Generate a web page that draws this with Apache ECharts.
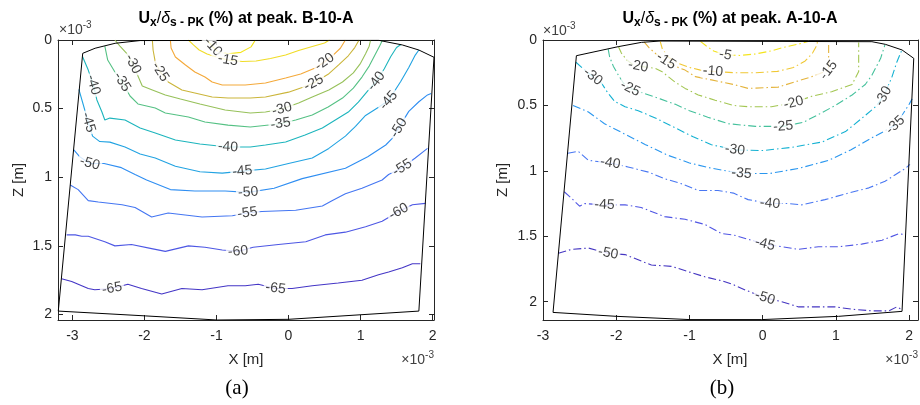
<!DOCTYPE html>
<html><head><meta charset="utf-8">
<script src="https://cdn.jsdelivr.net/npm/echarts@6/dist/echarts.min.js"></script>
<style>html,body{margin:0;padding:0;background:#fff}#c{width:920px;height:405px}</style>
</head><body><div id="c"></div>
<script>
// ---------- tick labels ----------
const xTicks = [-3, -2, -1, 0, 1, 2];
const zTicks = [0, 0.5, 1, 1.5, 2];

// ---------- panel (a) B-10-A : contour lines [X(1e-3 m), Z(1e-3 m)] ----------
const levelsA = [-10, -15, -20, -25, -30, -35, -40, -45, -50, -55, -60, -65];
const A10 = [[-1.13,0],[-1.05,0.05],[-0.98,0.085],[-0.84,0.10],[-0.66,0.09],[-0.52,0.05],[-0.46,0]];
const A15 = [[-1.39,0],[-1.32,0.036],[-1.24,0.073],[-1.13,0.102],[-1.00,0.124],[-0.84,0.146],[-0.64,0.157],[-0.45,0.153],[-0.25,0.135],[-0.04,0.109],[0.14,0.077],[0.33,0.047],[0.50,0.022],[0.57,0]];
const A20 = [[-1.64,0],[-1.63,0.058],[-1.57,0.124],[-1.43,0.182],[-1.30,0.233],[-1.16,0.270],[-1.06,0.306],[-0.92,0.328],[-0.60,0.328],[-0.32,0.313],[-0.04,0.277],[0.17,0.248],[0.37,0.204],[0.50,0.160],[0.62,0.110],[0.72,0.060],[0.79,0]];
const A25 = [[-1.89,0],[-1.88,0.073],[-1.85,0.160],[-1.78,0.233],[-1.67,0.306],[-1.48,0.364],[-1.30,0.386],[-1.06,0.415],[-0.84,0.423],[-0.53,0.423],[-0.32,0.415],[0.00,0.380],[0.20,0.345],[0.35,0.313],[0.55,0.250],[0.70,0.180],[0.83,0.115],[0.92,0.055],[0.98,0]];
const A30 = [[-2.41,0],[-2.34,0.044],[-2.25,0.095],[-2.16,0.175],[-2.09,0.262],[-2.03,0.335],[-1.89,0.364],[-1.71,0.401],[-1.50,0.430],[-1.23,0.466],[-0.88,0.510],[-0.53,0.532],[-0.32,0.525],[-0.09,0.503],[0.14,0.459],[0.33,0.415],[0.56,0.364],[0.75,0.306],[0.90,0.240],[1.00,0.170],[1.07,0.100],[1.12,0.045],[1.14,0]];
const A35 = [[-2.55,0.045],[-2.51,0.146],[-2.41,0.233],[-2.31,0.306],[-2.20,0.408],[-2.09,0.466],[-1.85,0.496],[-1.71,0.532],[-1.39,0.561],[-1.16,0.598],[-0.84,0.620],[-0.53,0.634],[-0.11,0.610],[0.10,0.583],[0.33,0.547],[0.55,0.488],[0.75,0.423],[0.90,0.350],[1.02,0.270],[1.12,0.190],[1.20,0.110],[1.26,0.050],[1.30,0.005]];
const A40 = [[-2.86,0.12],[-2.78,0.219],[-2.71,0.328],[-2.66,0.437],[-2.59,0.525],[-2.55,0.583],[-2.48,0.569],[-2.27,0.583],[-2.06,0.641],[-1.85,0.678],[-1.57,0.729],[-1.23,0.758],[-0.84,0.780],[-0.53,0.780],[-0.32,0.765],[-0.04,0.743],[0.23,0.692],[0.47,0.641],[0.65,0.583],[0.83,0.525],[0.97,0.452],[1.10,0.370],[1.22,0.300],[1.33,0.210],[1.42,0.120],[1.50,0.055],[1.56,0.033]];
const A45 = [[-2.91,0.36],[-2.85,0.47],[-2.78,0.60],[-2.72,0.70],[-2.62,0.74],[-2.48,0.744],[-2.27,0.78],[-2.06,0.83],[-1.85,0.86],[-1.57,0.92],[-1.23,0.96],[-0.92,0.97],[-0.64,0.955],[-0.32,0.94],[0.00,0.90],[0.33,0.86],[0.56,0.79],[0.79,0.70],[0.93,0.63],[1.07,0.55],[1.25,0.49],[1.39,0.44],[1.56,0.30],[1.67,0.20],[1.76,0.11],[1.81,0.073]];
const A50 = [[-2.98,0.80],[-2.90,0.85],[-2.76,0.90],[-2.56,0.90],[-2.32,0.93],[-2.13,0.98],[-1.97,1.02],[-1.64,1.09],[-1.30,1.10],[-0.88,1.10],[-0.56,1.11],[-0.20,1.08],[0.19,1.01],[0.79,0.935],[1.10,0.85],[1.35,0.765],[1.44,0.716],[1.53,0.64],[1.67,0.52],[1.81,0.45],[1.93,0.40],[1.98,0.39]];
const A55 = [[-3.03,1.057],[-2.92,1.09],[-2.78,1.17],[-2.64,1.18],[-2.31,1.20],[-2.13,1.22],[-1.90,1.29],[-1.67,1.26],[-1.20,1.29],[-0.78,1.28],[-0.57,1.26],[-0.37,1.25],[0.10,1.24],[0.47,1.21],[0.61,1.17],[0.79,1.12],[1.02,1.08],[1.30,1.02],[1.39,0.98],[1.58,0.93],[1.76,0.86],[1.93,0.79]];
const A60 = [[-3.08,1.42],[-2.96,1.42],[-2.87,1.43],[-2.78,1.43],[-2.55,1.47],[-2.41,1.50],[-2.18,1.49],[-1.90,1.52],[-1.71,1.54],[-1.39,1.50],[-1.16,1.51],[-0.92,1.53],[-0.70,1.54],[-0.49,1.51],[-0.14,1.49],[0.24,1.47],[0.51,1.42],[0.79,1.40],[1.07,1.36],[1.30,1.32],[1.53,1.25],[1.72,1.20],[1.90,1.19]];
const A65 = [[-3.15,1.74],[-3.01,1.76],[-2.78,1.81],[-2.69,1.82],[-2.45,1.81],[-2.23,1.78],[-2.04,1.81],[-1.76,1.85],[-1.48,1.81],[-1.20,1.82],[-0.84,1.79],[-0.60,1.79],[-0.42,1.78],[-0.18,1.81],[0.05,1.81],[0.33,1.79],[0.69,1.77],[1.02,1.75],[1.25,1.71],[1.39,1.69],[1.58,1.66],[1.72,1.63],[1.83,1.63]];
const boundaryA = [[-3.196,1.975],[-2.857,0.097],[-2.685,0.060],[-2.407,0.024],[-2.06,0.004],[1.25,0.002],[1.58,0.036],[1.81,0.073],[2.02,0.126],[1.81,1.975],[0.0,2.035],[-0.99,2.04],[-1.99,2.01],[-3.196,1.975]];
// contour labels: [level, vertex index on that level's line]
const labelsA = [[-10,1],[-15,5],[-20,13],[-25,3],[-25,13],[-30,3],[-30,13],[-35,3],[-35,12],[-40,2],[-40,12],[-40,22],[-45,2],[-45,12],[-45,21],[-50,2],[-50,10],[-50,17],[-55,10],[-55,19],[-60,12],[-60,20],[-65,4],[-65,13]];

// ---------- panel (b) A-10-A ----------
const levelsB = [-5, -10, -15, -20, -25, -30, -35, -40, -45, -50];
const B5  = [[-0.85,0.01],[-0.77,0.046],[-0.67,0.084],[-0.51,0.115],[-0.31,0.118],[-0.10,0.107],[0.11,0.084],[0.31,0.053],[0.49,0.031],[0.63,0.01]];
const B10 = [[-1.40,0.01],[-1.37,0.07],[-1.29,0.13],[-1.15,0.18],[-1.00,0.21],[-0.85,0.23],[-0.68,0.24],[-0.40,0.25],[-0.10,0.25],[0.20,0.24],[0.42,0.21],[0.58,0.16],[0.68,0.10],[0.73,0.05],[0.75,0.01]];
const B15 = [[-1.62,0.015],[-1.55,0.06],[-1.45,0.11],[-1.32,0.16],[-1.20,0.20],[-1.06,0.23],[-0.92,0.28],[-0.70,0.305],[-0.40,0.34],[-0.20,0.37],[0.21,0.36],[0.44,0.32],[0.67,0.28],[0.90,0.23],[0.90,0.115],[0.90,0.013]];
const B20 = [[-1.97,0.051],[-1.93,0.10],[-1.86,0.15],[-1.78,0.185],[-1.70,0.20],[-1.47,0.216],[-1.38,0.24],[-1.20,0.32],[-1.06,0.37],[-0.88,0.42],[-0.65,0.46],[-0.40,0.50],[-0.20,0.51],[0.12,0.51],[0.42,0.48],[0.67,0.43],[0.94,0.395],[1.22,0.34],[1.31,0.24],[1.31,0.12],[1.31,0.02]];
const B25 = [[-2.11,0.07],[-2.09,0.13],[-2.04,0.20],[-1.97,0.27],[-1.90,0.33],[-1.81,0.37],[-1.61,0.41],[-1.40,0.45],[-1.20,0.49],[-1.00,0.54],[-0.75,0.59],[-0.47,0.64],[-0.10,0.66],[0.28,0.66],[0.55,0.63],[0.76,0.57],[0.99,0.50],[1.22,0.42],[1.40,0.34],[1.49,0.27],[1.61,0.14],[1.67,0.035]];
const B30 = [[-2.55,0.17],[-2.45,0.22],[-2.32,0.28],[-2.20,0.33],[-2.12,0.40],[-2.02,0.47],[-1.88,0.51],[-1.70,0.54],[-1.45,0.60],[-1.20,0.67],[-0.95,0.74],[-0.70,0.80],[-0.38,0.84],[0.0,0.845],[0.40,0.82],[0.81,0.78],[1.13,0.70],[1.35,0.60],[1.54,0.51],[1.65,0.43],[1.76,0.29],[1.83,0.17],[1.90,0.076]];
const B35 = [[-2.59,0.50],[-2.38,0.55],[-2.16,0.64],[-1.88,0.72],[-1.60,0.80],[-1.30,0.88],[-1.00,0.94],[-0.70,0.98],[-0.29,1.02],[0.10,1.02],[0.50,0.98],[0.90,0.92],[1.20,0.84],[1.45,0.76],[1.65,0.70],[1.81,0.65],[1.92,0.56],[2.00,0.49],[2.04,0.45]];
const B40 = [[-2.66,0.865],[-2.52,0.85],[-2.38,0.92],[-2.08,0.94],[-1.84,0.97],[-1.56,1.01],[-1.34,1.06],[-1.10,1.10],[-0.88,1.15],[-0.61,1.15],[-0.40,1.17],[-0.20,1.22],[0.10,1.25],[0.35,1.25],[0.53,1.26],[0.85,1.22],[1.17,1.17],[1.45,1.13],[1.67,1.08],[1.81,1.03],[1.95,0.98],[2.01,0.95]];
const B45 = [[-2.71,1.16],[-2.61,1.21],[-2.50,1.27],[-2.43,1.25],[-2.16,1.26],[-1.88,1.26],[-1.66,1.28],[-1.34,1.35],[-1.06,1.37],[-0.79,1.41],[-0.56,1.48],[-0.40,1.49],[0.03,1.56],[0.26,1.58],[0.49,1.60],[0.76,1.58],[1.04,1.58],[1.35,1.56],[1.63,1.53],[1.86,1.48],[1.95,1.49]];
const B50 = [[-2.79,1.63],[-2.61,1.60],[-2.38,1.59],[-2.11,1.63],[-1.88,1.64],[-1.70,1.68],[-1.52,1.72],[-1.24,1.73],[-1.02,1.77],[-0.79,1.81],[-0.56,1.84],[-0.40,1.87],[-0.24,1.91],[0.03,1.97],[0.26,2.00],[0.49,2.04],[0.72,2.04],[0.99,2.04],[1.26,2.06],[1.49,2.07],[1.72,2.07],[1.83,2.04],[1.90,2.06]];
const boundaryB = [[-2.863,2.082],[-2.544,0.120],[-1.974,0.051],[-1.655,0.018],[-1.40,0.008],[1.491,0.013],[1.674,0.033],[1.902,0.076],[2.062,0.140],[1.902,2.074],[1.036,2.112],[-0.014,2.137],[-0.993,2.137],[-1.997,2.112],[-2.863,2.082]];
const labelsB = [[-5,3],[-10,6],[-15,3],[-15,13],[-20,4],[-20,14],[-25,5],[-25,13],[-30,2],[-30,12],[-30,19],[-35,8],[-35,15],[-40,3],[-40,12],[-45,4],[-45,12],[-50,3],[-50,13]];

// ---------- styles ----------
const linesA = [A10, A15, A20, A25, A30, A35, A40, A45, A50, A55, A60, A65];
const linesB = [B5, B10, B15, B20, B25, B30, B35, B40, B45, B50];
const colorsA = ['#f4e41c','#f0dc26','#f4a93a','#cbb53a','#97c15a','#55c184','#1db5bd','#22a3e2','#2f8ef2','#4476f2','#4d57e4','#4436c6'];
const colorsB = ['#f4e41c','#f0c834','#e4b43c','#a3c652','#45c19c','#14b1d2','#2b97ef','#4977f2','#5056e4','#4536c2'];
const FONT = 'Liberation Sans';
const AX = '#262626';

function axes(grid, xmin, xmax, ymax) {
  const common = {type:'value', gridIndex:grid, splitLine:{show:false},
    axisLine:{show:true, onZero:false, lineStyle:{color:AX, width:1}}};
  const xb = Object.assign({}, common, {position:'bottom', min:xmin, max:xmax,
    axisTick:{show:true, inside:true, length:5, customValues:xTicks, lineStyle:{color:AX}},
    axisLabel:{show:true, customValues:xTicks, color:AX, fontSize:14, fontFamily:FONT, margin:9, formatter:v=>String(v)}});
  const xt = Object.assign({}, common, {position:'top', min:xmin, max:xmax,
    axisTick:{show:true, inside:true, length:5, customValues:xTicks, lineStyle:{color:AX}},
    axisLabel:{show:false}});
  const yl = Object.assign({}, common, {position:'left', inverse:true, min:0, max:ymax,
    axisTick:{show:true, inside:true, length:5, customValues:zTicks, lineStyle:{color:AX}},
    axisLabel:{show:true, customValues:zTicks, color:AX, fontSize:14, fontFamily:FONT, margin:6, formatter:v=>String(v)}});
  const yr = Object.assign({}, common, {position:'right', inverse:true, min:0, max:ymax,
    axisTick:{show:true, inside:true, length:5, customValues:zTicks, lineStyle:{color:AX}},
    axisLabel:{show:false}});
  return {x:[xb, xt], y:[yl, yr]};
}
const axA = axes(0, -3.2, 2.02, 2.04);
const axB = axes(1, -3, 2.12, 2.14);

const series = [];
function addPanel(tag, levels, lines, colors, boundary, xi, yi, dash) {
  levels.forEach((lv, i) => {
    series.push({id: tag + lv, type:'line', xAxisIndex:xi, yAxisIndex:yi, data:lines[i],
      symbol:'none', showSymbol:false, silent:true, animation:false, z:2,
      lineStyle:{color:colors[i], width:1.1, type: dash ? [8,3,1.5,3] : 'solid'}});
  });
  series.push({id: tag + 'bd', type:'line', xAxisIndex:xi, yAxisIndex:yi, data:boundary,
    symbol:'none', showSymbol:false, silent:true, animation:false, z:3,
    lineStyle:{color:'#000', width:1}});
}
addPanel('a', levelsA, linesA, colorsA, boundaryA, 0, 0, false);
addPanel('b', levelsB, linesB, colorsB, boundaryB, 2, 2, true);

function labelSeries(tag, labels, levels, lines, xi, yi, rot) {
  return {id: tag + 'lab', type:'scatter', xAxisIndex:xi, yAxisIndex:yi, symbolSize:1,
    itemStyle:{color:'rgba(0,0,0,0)'}, silent:true, animation:false, z:10,
    label:{show:true, position:'inside', color:'#111', fontSize:14, fontFamily:FONT,
      backgroundColor:'#fff', padding:[0,2]},
    labelLayout:{hideOverlap:false},
    data: labels.map((l, k) => {
      const line = lines[levels.indexOf(l[0])];
      return {value: line[l[1]], name: String(l[0]),
        label:{show:true, formatter: String(l[0]), rotate: rot ? rot[k] : 0}};
    })};
}
series.push(labelSeries('a', labelsA, levelsA, linesA, 0, 0, null));
series.push(labelSeries('b', labelsB, levelsB, linesB, 2, 2, null));

function rt(x, y, text, rich, align, rotation) {
  return {type:'text', x:x, y:y, rotation: rotation || 0, silent:true,
    style:{text:text, rich:rich, align:align || 'center', verticalAlign:'middle', fill:'#000'}};
}
const titleRich = {
  b:{fontSize:16, fontWeight:'bold', fontFamily:FONT, lineHeight:20, verticalAlign:'middle', fill:'#000'},
  s:{fontSize:12, fontWeight:'bold', fontFamily:FONT, lineHeight:10, verticalAlign:'bottom', fill:'#000'},
  n:{fontSize:16, fontFamily:FONT, lineHeight:20, verticalAlign:'middle', fill:'#000'},
  i:{fontSize:16, fontStyle:'italic', fontFamily:FONT, lineHeight:20, verticalAlign:'middle', fill:'#000'}
};
const expRich = {
  m:{fontSize:14, fontFamily:FONT, lineHeight:20, verticalAlign:'middle', fill:'#404040'},
  p:{fontSize:10, fontFamily:FONT, lineHeight:10, verticalAlign:'top', fill:'#404040'}
};
const labRich = {m:{fontSize:15, fontFamily:FONT, fill:AX, lineHeight:18}};
const capRich = {m:{fontSize:21, fontFamily:'Liberation Serif', fill:'#000', lineHeight:24}};
const graphic = [
  rt(246, 19, '{b|U}{s|x}{n|/}{i|δ}{s|s - PK}{b| (%) at peak. B-10-A}', titleRich),
  rt(730, 19, '{b|U}{s|x}{n|/}{i|δ}{s|s - PK}{b| (%) at peak. A-10-A}', titleRich),
  rt(59, 30, '{m|×10}{p|-3}', expRich, 'left'),
  rt(543, 31, '{m|×10}{p|-3}', expRich, 'left'),
  rt(434, 360, '{m|×10}{p|-3}', expRich, 'right'),
  rt(918, 360, '{m|×10}{p|-3}', expRich, 'right'),
  rt(246, 360, '{m|X [m]}', labRich),
  rt(730, 360, '{m|X [m]}', labRich),
  rt(19, 180, '{m|Z [m]}', labRich, 'center', Math.PI/2),
  rt(503, 180, '{m|Z [m]}', labRich, 'center', Math.PI/2),
  rt(237, 388, '{m|(a)}', capRich),
  rt(722, 388, '{m|(b)}', capRich)
];

const chart = echarts.init(document.getElementById('c'));
chart.setOption({
  animation:false,
  grid:[{left:58, top:40, width:376, height:280}, {left:543, top:40, width:375, height:280}],
  xAxis:[axA.x[0], axA.x[1], axB.x[0], axB.x[1]],
  yAxis:[axA.y[0], axA.y[1], axB.y[0], axB.y[1]],
  series: series,
  graphic: graphic
});

// rotate every contour label along the local direction of its line
function angles(tag, labels, levels, lines) {
  return labels.map(l => {
    const line = lines[levels.indexOf(l[0])];
    const sIdx = series.findIndex(s => s.id === tag + l[0]);
    const i0 = Math.max(0, l[1] - 1), i1 = Math.min(line.length - 1, l[1] + 1);
    const p0 = chart.convertToPixel({seriesIndex:sIdx}, line[i0]);
    const p1 = chart.convertToPixel({seriesIndex:sIdx}, line[i1]);
    let a = Math.atan2(-(p1[1] - p0[1]), p1[0] - p0[0]) * 180 / Math.PI;
    if (a > 90) a -= 180;
    if (a < -90) a += 180;
    return a;
  });
}
const rotA = angles('a', labelsA, levelsA, linesA);
const rotB = angles('b', labelsB, levelsB, linesB);
chart.setOption({series:[
  labelSeries('a', labelsA, levelsA, linesA, 0, 0, rotA),
  labelSeries('b', labelsB, levelsB, linesB, 2, 2, rotB)
]});
</script>
</body></html>
